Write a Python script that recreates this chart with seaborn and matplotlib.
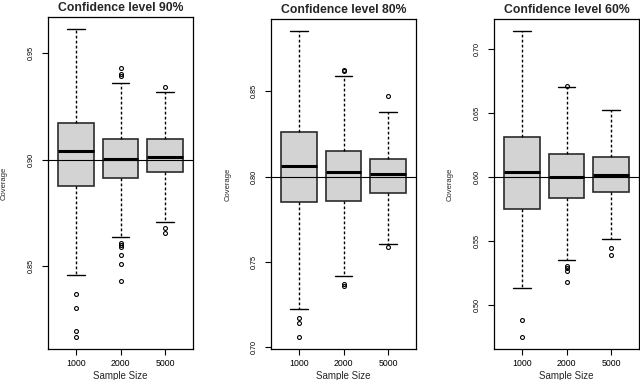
import matplotlib
matplotlib.use("Agg")
import matplotlib.pyplot as plt
import seaborn as sns
import numpy as np

# Sample sizes on the x axis
sizes = ["1000", "2000", "5000"]
titles = ["Confidence level 90%", "Confidence level 80%", "Confidence level 60%"]
nominal = [0.90, 0.80, 0.60]

# Five-number summaries (one entry per sample size)
lo_90 = [0.8456, 0.8637, 0.8705]
q1_90 = [0.8877, 0.8912, 0.8941]
med_90 = [0.9042, 0.9003, 0.9014]
q3_90 = [0.9173, 0.9098, 0.9098]
hi_90 = [0.9613, 0.9360, 0.9320]
out_90 = [[0.8367, 0.8304, 0.8193, 0.8167],
          [0.9429, 0.9403, 0.9395, 0.8610, 0.8599, 0.8587, 0.8552, 0.8508, 0.8429],
          [0.9340, 0.8680, 0.8653]]

lo_80 = [0.7227, 0.7420, 0.7604]
q1_80 = [0.7850, 0.7858, 0.7903]
med_80 = [0.8062, 0.8025, 0.8016]
q3_80 = [0.8263, 0.8152, 0.8105]
hi_80 = [0.8852, 0.8592, 0.8378]
out_80 = [[0.7173, 0.7144, 0.7062],
          [0.8622, 0.8618, 0.7372, 0.7362],
          [0.8471, 0.7590]]

lo_60 = [0.5130, 0.5346, 0.5513]
q1_60 = [0.5750, 0.5834, 0.5885]
med_60 = [0.6041, 0.6003, 0.6016]
q3_60 = [0.6315, 0.6182, 0.6154]
hi_60 = [0.7143, 0.6703, 0.6523]
out_60 = [[0.4883, 0.4748],
          [0.6713, 0.5299, 0.5287, 0.5260, 0.5177],
          [0.5443, 0.5390]]

yticks_90 = [0.85, 0.90, 0.95]
yticks_80 = [0.70, 0.75, 0.80, 0.85]
yticks_60 = [0.50, 0.55, 0.60, 0.65, 0.70]

panels = [
    (lo_90, q1_90, med_90, q3_90, hi_90, out_90, yticks_90),
    (lo_80, q1_80, med_80, q3_80, hi_80, out_80, yticks_80),
    (lo_60, q1_60, med_60, q3_60, hi_60, out_60, yticks_60),
]

sns.set_theme(style="ticks")
plt.rcParams['font.family'] = ['Liberation Sans', 'DejaVu Sans']

W, H = 640, 380
fig = plt.figure(figsize=(6.4, 3.8), dpi=100)

# axes placement in pixels: (left, top)
corners = [(48, 17), (271, 19), (494, 19)]
ax_w, ax_bottom = 145, 349

for i, (lo, q1, med, q3, hi, outs, yticks) in enumerate(panels):
    left, top = corners[i]
    ax = fig.add_axes([left / W, 1 - ax_bottom / H, ax_w / W, (ax_bottom - top) / H])

    stats = []
    for j in range(len(sizes)):
        stats.append(dict(whislo=lo[j], q1=q1[j], med=med[j], q3=q3[j],
                          whishi=hi[j], fliers=np.array(outs[j]), label=sizes[j]))

    ax.bxp(stats, positions=[1, 2, 3], widths=0.8, capwidths=0.4,
           patch_artist=True,
           boxprops=dict(facecolor='#d3d3d3', edgecolor='#2b2b2b', linewidth=1.2),
           medianprops=dict(color='black', linewidth=2.2, solid_capstyle='butt'),
           whiskerprops=dict(color='black', linewidth=1.0, linestyle=(0, (2, 1.6))),
           capprops=dict(color='black', linewidth=1.0),
           flierprops=dict(marker='o', markerfacecolor='none', markeredgecolor='black',
                           markersize=2.8, markeredgewidth=0.8))

    ax.axhline(nominal[i], color='black', linewidth=0.8, zorder=3)

    # R-style 4% extension of the data range
    allv = lo + hi + [v for o in outs for v in o]
    vmin, vmax = min(allv), max(allv)
    pad = 0.04 * (vmax - vmin)
    ax.set_ylim(vmin - pad, vmax + pad)
    ax.set_xlim(0.38, 3.62)

    ax.set_yticks(yticks)
    ax.set_yticklabels([f"{t:.2f}" for t in yticks], rotation=90, va='center')
    ax.set_xticks([1, 2, 3])
    ax.set_xticklabels(sizes)
    ax.tick_params(axis='y', direction='out', length=4.5, width=0.8, pad=5,
                   labelsize=5.2, colors='black')
    ax.tick_params(axis='x', direction='out', length=4.5, width=0.8, pad=2.5,
                   labelsize=6.3, colors='black')
    for sp in ax.spines.values():
        sp.set_color('black')
        sp.set_linewidth(0.9)

    ax.set_title(titles[i], fontsize=8.8, fontweight='bold', pad=4.5)
    ax.set_xlabel("Sample Size", fontsize=7, labelpad=2.5)
    ax.set_ylabel("Coverage", fontsize=5.5)
    ax.yaxis.set_label_coords(-0.275, 0.5)

fig.savefig("out.png", dpi=100)
